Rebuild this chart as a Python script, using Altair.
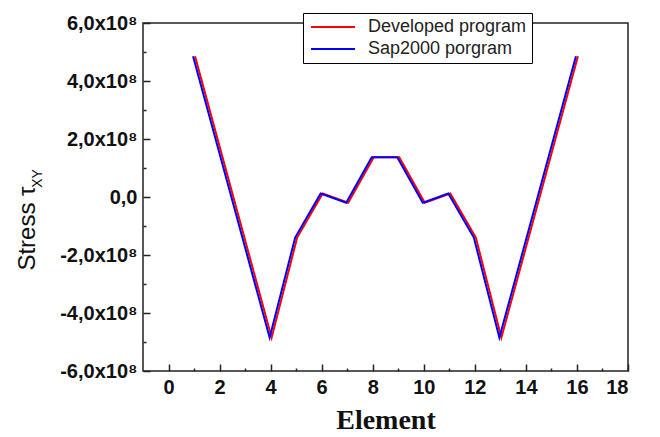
import altair as alt
import pandas as pd

elements = [1, 4, 5, 6, 7, 8, 9, 10, 11, 12, 13, 16]
developed = [4.85e8, -4.85e8, -1.40e8, 0.12e8, -0.20e8, 1.37e8, 1.37e8, -0.20e8, 0.12e8, -1.40e8, -4.85e8, 4.85e8]
sap2000 = [4.85e8, -4.85e8, -1.40e8, 0.12e8, -0.20e8, 1.37e8, 1.37e8, -0.20e8, 0.12e8, -1.40e8, -4.85e8, 4.85e8]
series_names = ["Developed program", "Sap2000 porgram"]
series_colors = ["#ff0000", "#0000ff"]
x_major = [0, 2, 4, 6, 8, 10, 12, 14, 16, 18]
x_ticks = list(range(0, 19))
y_major = [-6e8, -4e8, -2e8, 0, 2e8, 4e8, 6e8]
y_ticks = [k * 1e8 for k in range(-6, 7)]

df = pd.DataFrame({
    "Element": elements + elements,
    "Stress": developed + sap2000,
    "Series": [series_names[0]] * len(elements) + [series_names[1]] * len(elements),
})

W, H = 485, 348
xs = alt.Scale(domain=[-1, 18], nice=False, zero=False)
ys = alt.Scale(domain=[-6e8, 6e8], nice=False)

color = alt.Color(
    "Series:N",
    scale=alt.Scale(domain=series_names, range=series_colors),
    legend=alt.Legend(
        title=None, orient="none", legendX=160, legendY=-10, direction="vertical",
        strokeColor="black", fillColor="white", padding=5,
        symbolType="M-4,0H4", symbolSize=121, symbolStrokeWidth=2, symbolOffset=16,
        labelOffset=26, labelFont="Liberation Sans", labelFontSize=18, labelColor="#222",
        rowPadding=4,
    ),
)

ylabel_expr = ("datum.value == 0 ? '0,0' : replace(replace(format(datum.value / 1e8, '.1f'), '.', ','), '\u2212', '-') + 'x10\u2078'")

lab_axis_x = alt.Axis(values=x_major, ticks=False, domain=False, grid=False,
                      labelFont="Liberation Sans", labelFontWeight="bold", labelFontSize=20,
                      labelColor="#111", labelPadding=6,
                      title="Element", titleFont="Liberation Serif", titleFontSize=28,
                      titleFontWeight="bold", titleColor="#111", titleY=57, titleBaseline="alphabetic")
tick_axis_x = alt.Axis(orient="top", offset=-H, values=x_ticks, labels=False, domain=False, grid=False,
                       title=None, tickColor="#222", tickWidth=1.5,
                       tickSize={"condition": {"test": "datum.value % 2 === 0", "value": 7}, "value": 3})

lab_axis_y = alt.Axis(values=y_major, ticks=False, domain=False, grid=False, labelExpr=ylabel_expr,
                      labelFont="Liberation Sans", labelFontWeight="bold", labelFontSize=20,
                      labelColor="#111", labelPadding=6,
                      title="Stress \u03c4", titleFont="Liberation Sans", titleFontSize=24,
                      titleFontWeight="normal", titleColor="#111", titleAngle=270,
                      titleX=-116, titleY=205, titleAlign="center", titleBaseline="middle")
tick_axis_y = alt.Axis(orient="right", offset=-W, values=y_ticks, labels=False, domain=False, grid=False,
                       tickColor="#222", tickWidth=1.5,
                       tickSize={"condition": {"test": "datum.value % 2e8 === 0", "value": 7}, "value": 3},
                       title="XY", titleFont="Liberation Sans", titleFontSize=14,
                       titleFontWeight="normal", titleColor="#111", titleAngle=270,
                       titleX=-106, titleY=155, titleAlign="center", titleBaseline="middle")

red = alt.Chart(df).transform_filter(alt.datum.Series == series_names[0]).mark_line(strokeWidth=2).encode(
    x=alt.X("Element:Q", scale=xs, axis=lab_axis_x),
    y=alt.Y("Stress:Q", scale=ys, axis=lab_axis_y),
    color=color,
    xOffset=alt.value(1),
)
blue = alt.Chart(df).transform_filter(alt.datum.Series == series_names[1]).mark_line(strokeWidth=2).encode(
    x=alt.X("Element:Q", scale=xs, axis=tick_axis_x),
    y=alt.Y("Stress:Q", scale=ys, axis=tick_axis_y),
    color=color,
    xOffset=alt.value(-1),
)

chart = alt.layer(red, blue).resolve_axis(x="independent", y="independent").resolve_scale(
    x="shared", y="shared", color="shared"
).properties(
    width=W, height=H,
    padding={"left": 135, "top": 15, "right": 24, "bottom": 64},
    autosize=alt.AutoSizeParams(type="none"),
).configure_view(stroke="#222", strokeWidth=1.5)

chart.save("out.html", embed_options={"renderer": "svg", "actions": False})
